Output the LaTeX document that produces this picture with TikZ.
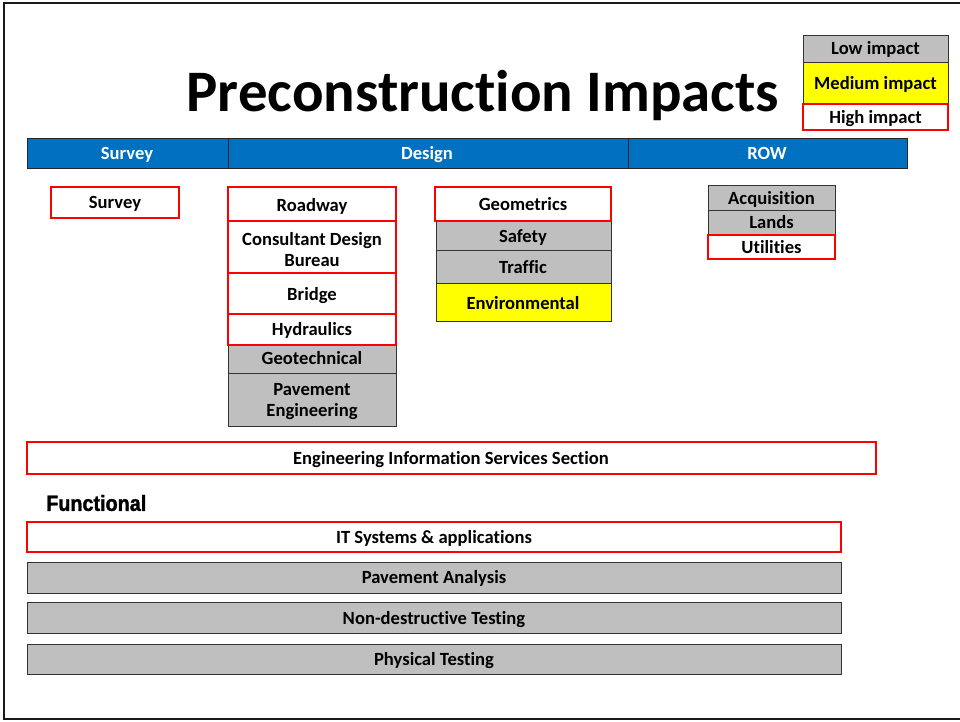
\documentclass[tikz,border=0pt]{standalone}
\usepackage{fontspec}
\setmainfont{Carlito}[Ligatures=NoCommon]
\newfontfamily\narrowfont{Liberation Sans}[FakeStretch=0.9,FakeBold=1.5]
\definecolor{hdrblue}{HTML}{0070C0}
\definecolor{lowgray}{HTML}{BFBFBF}
\definecolor{hired}{HTML}{FF0000}
\definecolor{medyel}{HTML}{FFFF00}
\begin{document}
\begin{tikzpicture}[x=1pt,y=-1pt,
  lbl/.style={font=\fontsize{18.6}{21.5}\selectfont\bfseries, align=center, inner sep=0pt, yshift=-1.5pt},
  sl/.style={lbl, text height=13pt, text depth=4.5pt},
  highbox/.style={draw=hired, line width=2.4pt, fill=white},
  lowbox/.style={draw=black!80, line width=0.8pt, fill=lowgray},
  medbox/.style={draw=black!80, line width=0.8pt, fill=medyel},
  hdr/.style={draw=black!85, line width=0.8pt, fill=hdrblue}
]
\useasboundingbox (0,0) rectangle (960,721);
\begin{scope}
\clip (0,0) rectangle (960,721);
\draw[line width=2pt, black!90] (4,3) rectangle (980,719);
\end{scope}

% title
\node[inner sep=0pt, font=\fontsize{58.8}{66}\selectfont\bfseries] (title) at (483,95) {Preconstruction Impacts};

% legend
\draw[lowbox] (803,35) rectangle (948,62);
\node[sl] (lowl) at (875.5,49) {Low impact};
\draw[medbox] (803,62) rectangle (948,104);
\node[sl] (medl) at (875.5,83.5) {Medium impact};
\draw[highbox] (803,104) rectangle (948,130);
\node[sl] (highl) at (875.5,117.5) {High impact};

% header bar
\draw[hdr] (27,138) rectangle (228,168);
\draw[hdr] (228,138) rectangle (628,168);
\draw[hdr] (628,138) rectangle (907,168);
\node[sl, text=white] (hsurvey) at (127,153.5) {Survey};
\node[sl, text=white] (hdesign) at (427,153.5) {Design};
\node[sl, text=white] (hrow) at (767,153.5) {ROW};

% survey
\draw[highbox] (51,187) rectangle (179,218);
\node[sl] (survey) at (115,202.5) {Survey};

% design column 1
\draw[lowbox] (228,345) rectangle (396,373);
\node[sl] (geo) at (312,359) {Geotechnical};
\draw[lowbox] (228,373) rectangle (396,426);
\node[lbl] (pave) at (312,400) {Pavement\\Engineering};
\draw[highbox] (228,187) rectangle (396,221);
\node[sl] (road) at (312,205.5) {Roadway};
\draw[highbox] (228,221) rectangle (396,273);
\node[lbl] (cdb) at (312,248) {Consultant Design\\Bureau};
\draw[highbox] (228,273) rectangle (396,314);
\node[sl] (bridge) at (312,295) {Bridge};
\draw[highbox] (228,314) rectangle (396,345);
\node[sl] (hyd) at (312,330) {Hydraulics};

% design column 2
\draw[lowbox] (436,221) rectangle (611,250);
\node[sl] (safety) at (523,236.5) {Safety};
\draw[lowbox] (436,250) rectangle (611,283);
\node[sl] (traffic) at (523,267.5) {Traffic};
\draw[medbox] (436,283) rectangle (611,321);
\node[sl] (env) at (523,303.5) {Environmental};
\draw[highbox] (435,187) rectangle (611,221);
\node[sl] (geom) at (523,204.5) {Geometrics};

% ROW column
\draw[lowbox] (708,185) rectangle (835,210);
\node[sl] (acq) at (771.5,198.5) {Acquisition};
\draw[lowbox] (708,210) rectangle (835,235);
\node[sl] (lands) at (771.5,223) {Lands};
\draw[highbox] (708,235) rectangle (835,259);
\node[sl] (util) at (771.5,247.5) {Utilities};

% EISS
\draw[highbox] (27,442) rectangle (876,474);
\node[sl] (eiss) at (451,458.5) {Engineering Information Services Section};

% Functional
\node[anchor=west, inner sep=0pt, font=\narrowfont\fontsize{22}{24}\selectfont\bfseries] (func) at (46,503) {Functional};

\draw[highbox] (27,522) rectangle (841,552);
\node[sl] (it) at (434,538) {IT Systems \& applications};
\draw[lowbox] (27,562) rectangle (841,593);
\node[sl] (pa) at (434,578) {Pavement Analysis};
\draw[lowbox] (27,602) rectangle (841,633);
\node[sl] (ndt) at (434,618.5) {Non-destructive Testing};
\draw[lowbox] (27,644) rectangle (841,674);
\node[sl] (pt) at (434,659.5) {Physical Testing};
\end{tikzpicture}
\end{document}
